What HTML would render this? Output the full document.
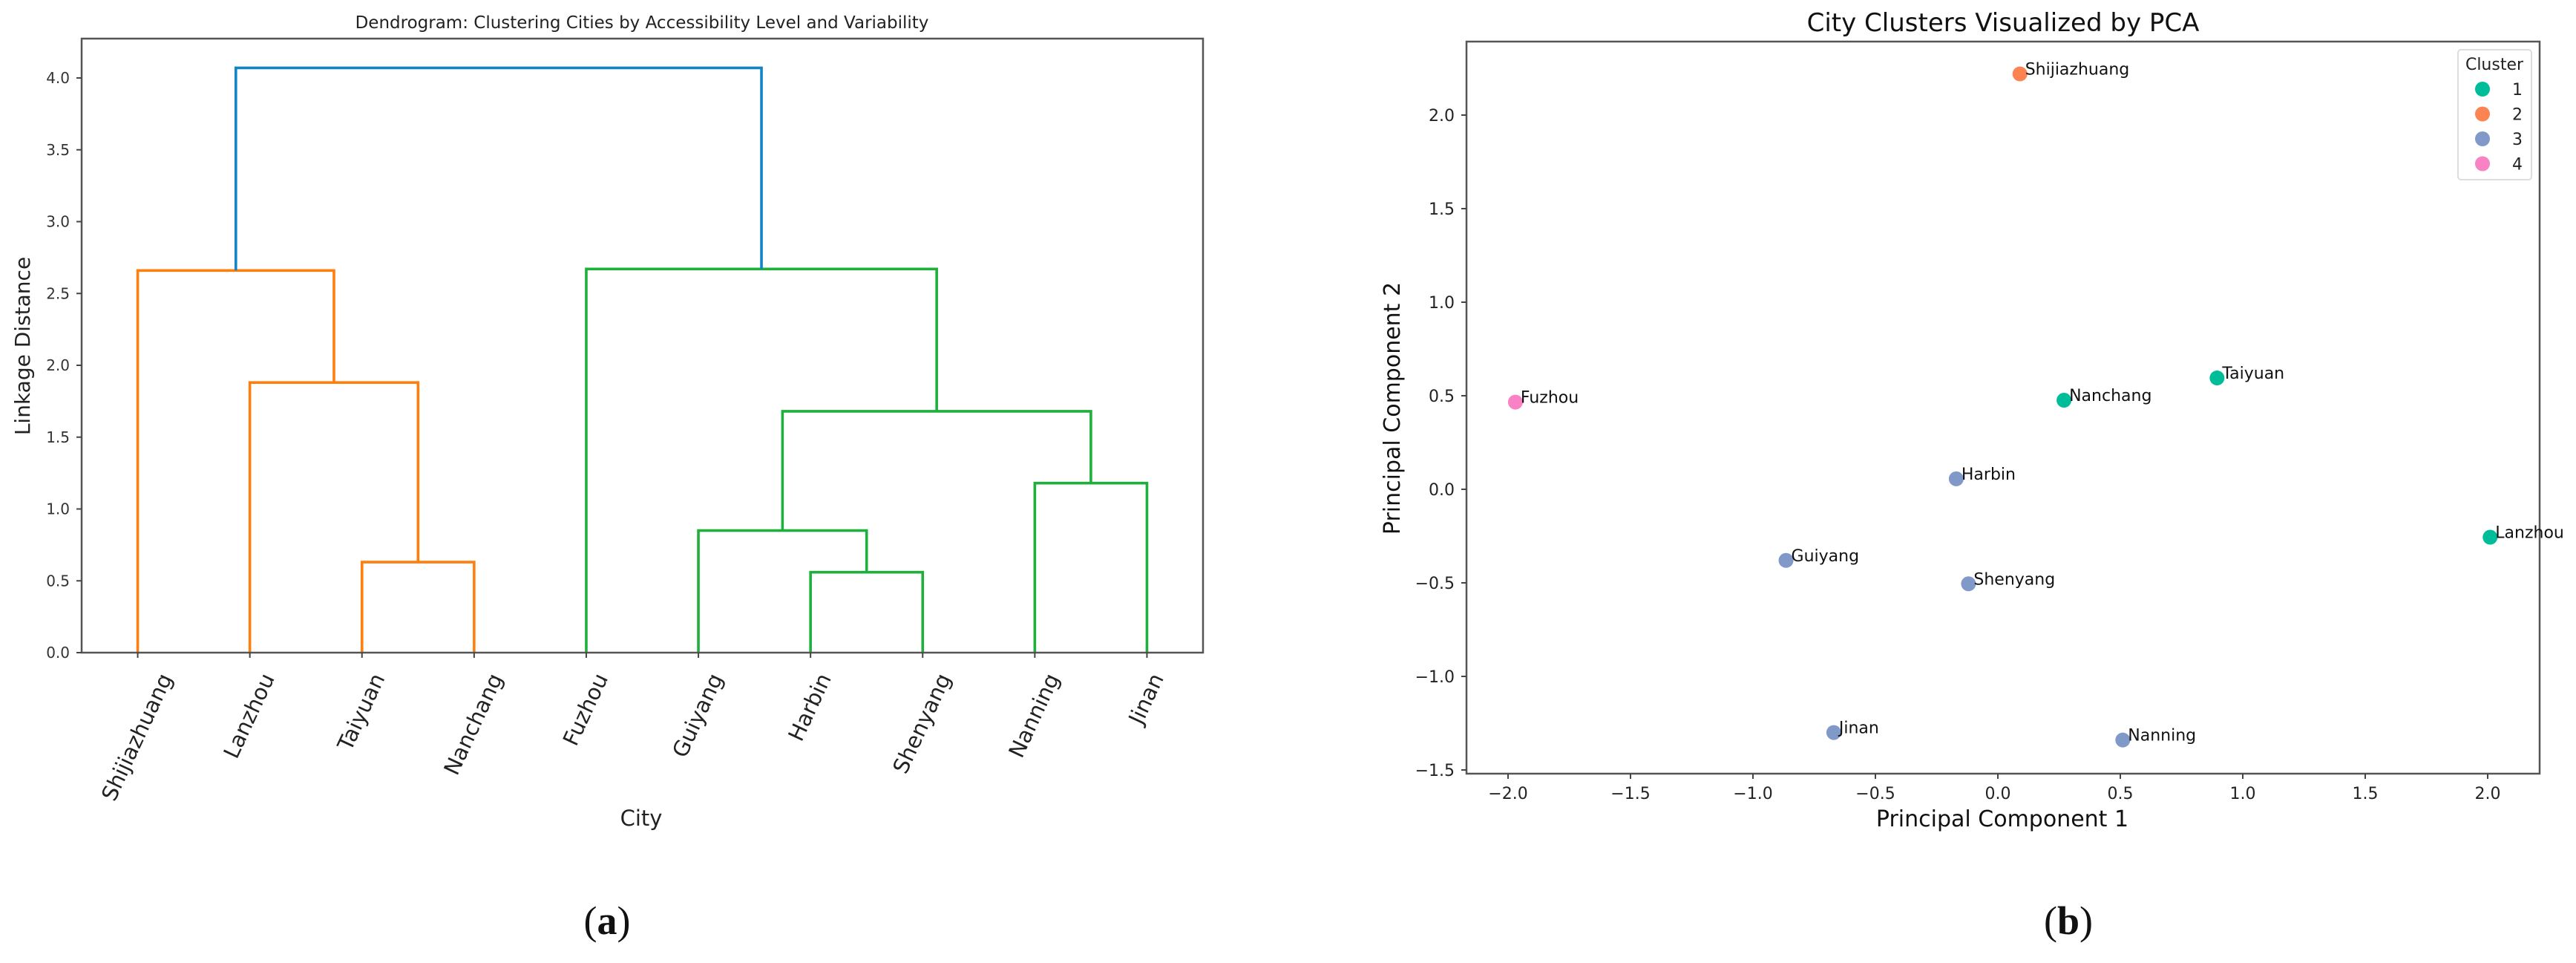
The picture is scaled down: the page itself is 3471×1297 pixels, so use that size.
<!DOCTYPE html>
<html><head><meta charset="utf-8"><style>
html,body{margin:0;padding:0;background:#fff;}
svg{display:block;font-family:"DejaVu Sans","Liberation Sans",sans-serif;}
</style></head><body>
<svg id="fig" width="3471" height="1297" viewBox="0 0 3471 1297" xmlns="http://www.w3.org/2000/svg">
<g id="dendro"></g>
<g id="pca"></g>
</svg>
<script>
// ---- Dendrogram data ----
const leafLabels = ["Shijiazhuang","Lanzhou","Taiyuan","Nanchang","Fuzhou","Guiyang","Harbin","Shenyang","Nanning","Jinan"];
// merges: child ids (leaf 0-9, merged node 10+), height
const mergeA = [2, 1, 0, 6, 5, 8, 14, 4, 12];
const mergeB = [3, 10, 11, 7, 13, 9, 15, 16, 17];
const mergeH = [0.63, 1.88, 2.66, 0.56, 0.85, 1.18, 1.68, 2.67, 4.07];
const mergeColor = ["#ff7f0e","#ff7f0e","#ff7f0e","#1fb03c","#1fb03c","#1fb03c","#1fb03c","#1fb03c","#1385c5"];
const dTicks = [0,0.5,1,1.5,2,2.5,3,3.5,4];

// ---- PCA data ----
const cityNames = ["Shijiazhuang","Taiyuan","Nanchang","Fuzhou","Harbin","Lanzhou","Guiyang","Shenyang","Jinan","Nanning"];
const pc1 = [0.09, 0.895, 0.27, -1.97, -0.17, 2.01, -0.865, -0.12, -0.67, 0.51];
const pc2 = [2.22, 0.595, 0.476, 0.466, 0.056, -0.256, -0.38, -0.505, -1.30, -1.34];
const clusterIds = [2, 1, 1, 4, 3, 1, 3, 3, 3, 3];
const clusterLabels = ["1","2","3","4"];
const clusterColors = ["#00bd9a","#fc8452","#8099c9","#f882c4"];
const pxTicks = [-2,-1.5,-1,-0.5,0,0.5,1,1.5,2];
const pyTicks = [-1.5,-1,-0.5,0,0.5,1,1.5,2];

const NS="http://www.w3.org/2000/svg";
function mk(parent,tag,attrs,text){const e=document.createElementNS(NS,tag);for(const k in attrs)e.setAttribute(k,attrs[k]);if(text!==undefined)e.textContent=text;parent.appendChild(e);return e;}
function fmt(v){return (v<0?"\u2212":"")+Math.abs(v).toFixed(1);}

// ===== Dendrogram =====
(function(){
  const g=document.getElementById('dendro');
  const L=110,R=1621,T=52,B=879,ymax=4.0,y4=105;
  const n=leafLabels.length, sp=(R-L)/n;
  const xs=i=>L+sp*(i+0.5);
  const ys=v=>B-(B-y4)*v/ymax;
  let e=mk(g,'text',{x:865,y:38,'text-anchor':'middle','font-size':23,fill:'#222'},"Dendrogram: Clustering Cities by Accessibility Level and Variability");
  
  
  const pos=[],ht=[];
  for(let i=0;i<n;i++){pos.push(xs(i));ht.push(0);}
  for(let k=0;k<mergeH.length;k++){
    const a=mergeA[k],b=mergeB[k],h=mergeH[k];
    const xa=pos[a],xb=pos[b];
    const p=mk(g,'path',{d:`M${xa},${ys(ht[a])}V${ys(h)}H${xb}V${ys(ht[b])}`,fill:'none',stroke:mergeColor[k],'stroke-width':3.6});
    
    
    pos.push((xa+xb)/2);ht.push(h);
  }
  e=mk(g,'rect',{x:L,y:T,width:R-L,height:B-T,fill:'none',stroke:'#555','stroke-width':2.5});
  
  
  dTicks.forEach(v=>{
    mk(g,'line',{x1:L-7,x2:L,y1:ys(v),y2:ys(v),stroke:'#444','stroke-width':2});
    const t=mk(g,'text',{x:L-16,y:ys(v)+7,'text-anchor':'end','font-size':20,fill:'#333'},v.toFixed(1));
    
    
  });
  leafLabels.forEach((s,i)=>{
    const x=xs(i);
    mk(g,'line',{x1:x,x2:x,y1:B,y2:B+7,stroke:'#444','stroke-width':2});
    const t=mk(g,'text',{x:0,y:0,'text-anchor':'end','font-size':29,fill:'#222'},s);
    
    
    let lw=s.length*17;
    try{lw=t.getComputedTextLength()||lw;}catch(err){}
    const px=x+0.211*lw+8, py=B+34;
    t.setAttribute('x',px);t.setAttribute('y',py);
    t.setAttribute('transform',`rotate(-65 ${px} ${py})`);
  });
  e=mk(g,'text',{x:40,y:466,'text-anchor':'middle','font-size':28,fill:'#222',transform:'rotate(-90 40 466)'},"Linkage Distance");
  
  
  e=mk(g,'text',{x:864,y:1112,'text-anchor':'middle','font-size':29,fill:'#222'},"City");
  
  
  e=mk(g,'text',{x:818,y:1258,'text-anchor':'middle','font-size':54,fill:'#111','font-family':'"Liberation Serif",serif'});
  
  
  mk(e,'tspan',{},"(");mk(e,'tspan',{'font-weight':'bold'},"a");mk(e,'tspan',{},")");
})();

// ===== PCA =====
(function(){
  const g=document.getElementById('pca');
  const L=1976,R=3422,T=56,B=1042;
  const xs=v=>2032+(v+2)*330;
  const ys=v=>155+(2-v)*252;
  let e=mk(g,'text',{x:2699,y:42,'text-anchor':'middle','font-size':34,fill:'#111'},"City Clusters Visualized by PCA");
  
  
  e=mk(g,'rect',{x:L,y:T,width:R-L,height:B-T,fill:'none',stroke:'#555','stroke-width':2.5});
  
  
  pxTicks.forEach(v=>{
    const x=xs(v);
    mk(g,'line',{x1:x,x2:x,y1:B,y2:B+7,stroke:'#444','stroke-width':2});
    const t=mk(g,'text',{x:x,y:B+34,'text-anchor':'middle','font-size':22,fill:'#222'},fmt(v));
    
    
  });
  pyTicks.forEach(v=>{
    const y=ys(v);
    mk(g,'line',{x1:L-7,x2:L,y1:y,y2:y,stroke:'#444','stroke-width':2});
    const t=mk(g,'text',{x:L-16,y:y+8,'text-anchor':'end','font-size':22,fill:'#222'},fmt(v));
    
    
  });
  cityNames.forEach((s,i)=>{
    const x=xs(pc1[i]),y=ys(pc2[i]);
    const c=mk(g,'circle',{cx:x,cy:y,r:10,fill:clusterColors[clusterIds[i]-1]});
    
    
    const t=mk(g,'text',{x:x+7,y:y+1,'font-size':22,fill:'#111'},s);
    
    
  });
  const lg=mk(g,'g',{});
  
  
  mk(lg,'rect',{x:3312,y:67,width:99,height:175,rx:4,fill:'#fff',stroke:'#ddd','stroke-width':2});
  e=mk(lg,'text',{x:3361,y:94,'text-anchor':'middle','font-size':22,fill:'#222'},"Cluster");
  
  
  clusterLabels.forEach((s,i)=>{
    const y=120+i*33.5;
    const ent=mk(lg,'g',{});
    
    
    mk(ent,'circle',{cx:3345,cy:y,r:10,fill:clusterColors[i]});
    mk(ent,'text',{x:3399,y:y+8,'text-anchor':'end','font-size':22,fill:'#222'},s);
  });
  e=mk(g,'text',{x:2698,y:1113,'text-anchor':'middle','font-size':30,fill:'#111'},"Principal Component 1");
  
  
  e=mk(g,'text',{x:1886,y:550,'text-anchor':'middle','font-size':30,fill:'#111',transform:'rotate(-90 1886 550)'},"Principal Component 2");
  
  
  e=mk(g,'text',{x:2787,y:1258,'text-anchor':'middle','font-size':54,fill:'#111','font-family':'"Liberation Serif",serif'});
  
  
  mk(e,'tspan',{},"(");mk(e,'tspan',{'font-weight':'bold'},"b");mk(e,'tspan',{},")");
})();
</script>
</body></html>
